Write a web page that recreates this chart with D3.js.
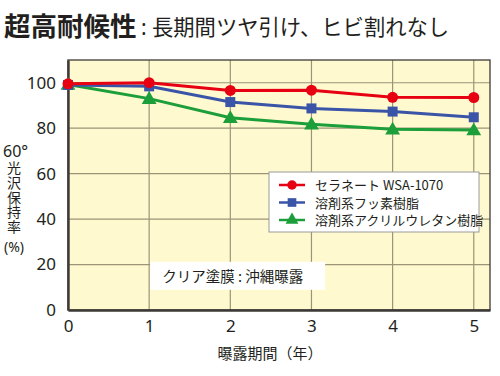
<!DOCTYPE html>
<html>
<head>
<meta charset="utf-8">
<script src="https://cdn.jsdelivr.net/npm/d3@7"></script>
<style>
  body { margin: 0; background: #fff; }
  text { font-family: "Noto Sans CJK JP", "Noto Sans", sans-serif; fill: #231f20; }
</style>
</head>
<body>
<div id="chart"></div>
<script>
// data
const years = [0, 1, 2, 3, 4, 5];
const seranet = [99.5, 100, 96.6, 96.7, 93.6, 93.5];
const fluoro = [99, 98.4, 91.5, 88.7, 87.3, 84.8];
const acrylic = [99.2, 93, 84.6, 81.7, 79.5, 79.2];
const yTicks = [0, 20, 40, 60, 80, 100];
const seriesNames = ["セラネート WSA-1070", "溶剤系フッ素樹脂", "溶剤系アクリルウレタン樹脂"];

const series = [
    {name: seriesNames[0], values: seranet, color: "#e60012", shape: d3.symbolCircle, size: 95},
    {name: seriesNames[1], values: fluoro, color: "#3a55a8", shape: d3.symbolSquare, size: 100},
    {name: seriesNames[2], values: acrylic, color: "#1c9e3a", shape: d3.symbolTriangle, size: 95}
];

const W = 500, H = 376;
const margin = {top: 60, right: 10, bottom: 66, left: 68};
const width = W - margin.left - margin.right;
const height = H - margin.top - margin.bottom;

const svg = d3.select("#chart").append("svg")
    .attr("width", W)
    .attr("height", H);

// title
svg.append("text")
    .attr("x", 4)
    .attr("y", 36)
    .attr("font-size", 26.5)
    .attr("font-weight", "bold")
    .text("超高耐候性");
svg.append("text")
    .attr("x", 141)
    .attr("y", 35)
    .attr("font-size", 21)
    .style("font-family", "'Noto Sans', sans-serif")
    .text(":");
svg.append("text")
    .attr("x", 152)
    .attr("y", 35)
    .attr("font-size", 21.3)
    .text("長期間ツヤ引け、ヒビ割れなし");

const g = svg.append("g")
    .attr("transform", `translate(${margin.left},${margin.top})`);

const x = d3.scaleLinear().domain([0, 5.2]).range([0, width]);
const y = d3.scaleLinear().domain([0, 110]).range([height, 0]);

// plot background
g.append("rect")
    .attr("width", width)
    .attr("height", height)
    .attr("fill", "#fff9cf");

// grid
g.append("g")
    .selectAll("line")
    .data(yTicks.slice(1))
    .join("line")
    .attr("x1", 0)
    .attr("x2", width)
    .attr("y1", d => y(d))
    .attr("y2", d => y(d))
    .attr("stroke", "#9d9478")
    .attr("stroke-width", 1.2);

g.append("g")
    .selectAll("line")
    .data(years.slice(1))
    .join("line")
    .attr("x1", d => x(d))
    .attr("x2", d => x(d))
    .attr("y1", 0)
    .attr("y2", height)
    .attr("stroke", "#9d9478")
    .attr("stroke-width", 1.2);

// annotation box
const note = g.append("g")
    .attr("transform", `translate(${x(1) + 1},${y(21.2)})`);
note.append("rect")
    .attr("width", 175)
    .attr("height", 28)
    .attr("fill", "#fff");
note.append("text")
    .attr("x", 12)
    .attr("y", 20)
    .attr("font-size", 14.5)
    .text("クリア塗膜 : 沖縄曝露");

// frame
g.append("rect")
    .attr("width", width)
    .attr("height", height)
    .attr("fill", "none")
    .attr("stroke", "#3c3a36")
    .attr("stroke-width", 1.3);

// axes
const xAxis = d3.axisBottom(x).tickValues(years).tickFormat(d3.format("d")).tickSize(0).tickPadding(10);
const yAxis = d3.axisLeft(y).tickValues(yTicks).tickSize(0).tickPadding(12);

const xg = g.append("g")
    .attr("transform", `translate(0,${height})`)
    .call(xAxis);
const yg = g.append("g").call(yAxis);

[xg, yg].forEach(a => {
    a.select(".domain").attr("stroke", "#3c3a36").attr("stroke-width", 2.4);
    a.selectAll("text")
        .attr("font-size", 17)
        .attr("fill", "#231f20")
        .style("font-family", "'Noto Sans', sans-serif");
});

// axis titles
svg.append("text")
    .attr("x", margin.left + x(2.5) - 1)
    .attr("y", 359)
    .attr("text-anchor", "middle")
    .attr("font-size", 15)
    .text("曝露期間（年）");

svg.append("text")
    .attr("x", 3)
    .attr("y", 157)
    .attr("font-size", 16)
    .style("font-family", "'Noto Sans', sans-serif")
    .text("60°");
svg.append("text")
    .attr("x", 14)
    .attr("y", 161)
    .attr("font-size", 14)
    .attr("letter-spacing", 0.6)
    .style("writing-mode", "vertical-rl")
    .text("光沢保持率");
svg.append("text")
    .attr("x", 14)
    .attr("y", 252)
    .attr("text-anchor", "middle")
    .attr("font-size", 14)
    .style("font-family", "'Noto Sans', sans-serif")
    .text("(%)");

// lines and markers
const line = d3.line()
    .x((d, i) => x(years[i]))
    .y(d => y(d));

const sg = g.selectAll(".series")
    .data(series.slice().reverse())
    .join("g")
    .attr("class", "series");

sg.append("path")
    .attr("d", d => line(d.values))
    .attr("fill", "none")
    .attr("stroke", d => d.color)
    .attr("stroke-width", 3);

sg.each(function (s) {
    d3.select(this).selectAll("path.mark")
        .data(s.values)
        .join("path")
        .attr("class", "mark")
        .attr("transform", (d, i) => `translate(${x(years[i])},${y(d) + (s.shape === d3.symbolTriangle ? 1 : 0)})`)
        .attr("d", d3.symbol().type(s.shape).size(s.size))
        .attr("fill", s.color);
});

// legend
const legend = svg.append("g")
    .attr("transform", "translate(269,172)");
legend.append("rect")
    .attr("width", 210)
    .attr("height", 60)
    .attr("fill", "#fff")
    .attr("stroke", "#9a9a9a")
    .attr("stroke-width", 1);

const items = legend.selectAll(".item")
    .data(series)
    .join("g")
    .attr("class", "item")
    .attr("transform", (d, i) => `translate(0,${13 + i * 17.5})`);
items.append("line")
    .attr("x1", 10)
    .attr("x2", 36)
    .attr("stroke", d => d.color)
    .attr("stroke-width", 2.5);
items.append("path")
    .attr("transform", "translate(23,0)")
    .attr("d", d => d3.symbol().type(d.shape).size(d.size * 0.75)())
    .attr("fill", d => d.color);
items.append("text")
    .attr("x", 46)
    .attr("y", 5)
    .attr("font-size", 13)
    .text(d => d.name);
</script>
</body>
</html>
